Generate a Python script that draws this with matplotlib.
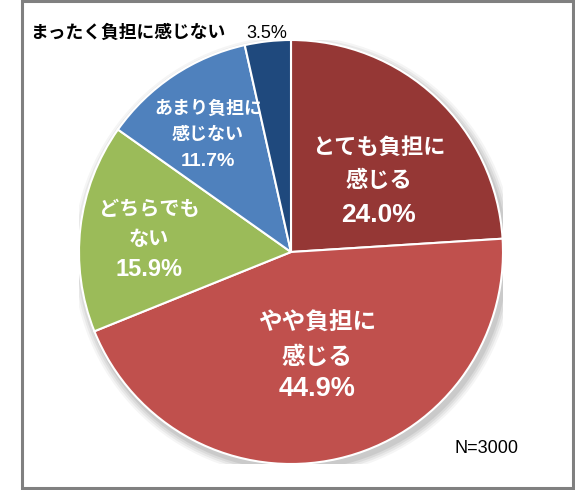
import matplotlib
matplotlib.use("Agg")
import matplotlib.pyplot as plt
from matplotlib.patches import Circle, Rectangle

# data (clockwise from 12 o'clock)
labels = ["とても負担に\n感じる", "やや負担に\n感じる", "どちらでも\nない", "あまり負担に\n感じない", "まったく負担に感じない"]
values = [24.0, 44.9, 15.9, 11.7, 3.5]
colors = ["#953735", "#C0504D", "#9BBB59", "#4F81BD", "#1F497D"]
note = "N=3000"

JP = ["Noto Sans CJK JP", "DejaVu Sans"]
NUM = ["Liberation Sans", "DejaVu Sans"]

fig = plt.figure(figsize=(5.75, 4.9), dpi=100)
W, H = 575, 490

# frame around the whole chart
fig.patches.append(Rectangle((22 / W, 1 - 488 / H), 551 / W, 487 / H,
                             transform=fig.transFigure, fill=False,
                             edgecolor="#808080", linewidth=2.2))

cx, cy, r = 291, 252, 212
ax = fig.add_axes([(cx - r) / W, (H - cy - r) / H, 2 * r / W, 2 * r / H])

# soft shadow
for i, a in enumerate([0.04, 0.05, 0.06, 0.07]):
    ax.add_patch(Circle((0.012, -0.02), 1.0 + 0.01 * (4 - i), color="black",
                        alpha=a, lw=0, zorder=0))

ax.pie(values, colors=colors, startangle=90, counterclock=False, radius=1.0,
       wedgeprops=dict(edgecolor="white", linewidth=1.5))
ax.set_xlim(-1, 1)
ax.set_ylim(-1, 1)
ax.set_aspect("equal")
ax.axis("off")


def px(x, y):
    return (x - cx) / r, (cy - y) / r


# x center, line y's, JP size, pct size
layout = [
    (379, [147, 180, 215], 16, 19),
    (317, [323, 357, 389], 17, 19.5),
    (149, [208, 238, 270], 14.5, 17),
    (208, [108, 134, 161], 13, 14),
]
for i, (x, ys, fs_jp, fs_pct) in enumerate(layout):
    lines = labels[i].split("\n")
    for line, y in zip(lines, ys[:2]):
        ax.text(*px(x, y), line, ha="center", va="center", color="white",
                fontsize=fs_jp, fontweight="bold", family=JP)
    ax.text(*px(x, ys[2]), f"{values[i]:.1f}%", ha="center", va="center",
            color="white", fontsize=fs_pct, fontweight="bold", family=NUM)

# outside label for the smallest slice
fig.text(30 / W, 1 - 33 / H, labels[4], ha="left", va="center", color="black",
         fontsize=12.8, fontweight="bold", family=JP)
fig.text(267 / W, 1 - 33 / H, f"{values[4]:.1f}%", ha="center", va="center",
         color="black", fontsize=13, family=NUM)

fig.text(487 / W, 1 - 448 / H, note, ha="center", va="center", color="black",
         fontsize=13, family=NUM)

fig.savefig("out.png", dpi=100, facecolor="white")
